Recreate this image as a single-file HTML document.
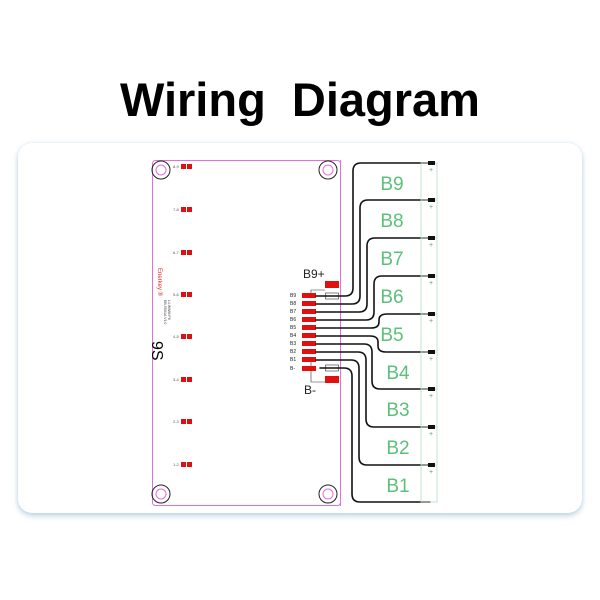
<!DOCTYPE html>
<html><head><meta charset="utf-8"><style>
html,body{margin:0;padding:0;background:#fff;}
body{width:600px;height:600px;position:relative;overflow:hidden;font-family:"Liberation Sans",sans-serif;}
.title{position:absolute;left:0;top:72px;width:600px;text-align:center;font-weight:bold;font-size:47px;color:#000;white-space:pre;line-height:56px;}
.card{position:absolute;left:18px;top:143px;width:564px;height:370px;background:#fff;border-radius:14px;box-shadow:0 3px 6px rgba(120,170,200,0.45),0 0 3px rgba(150,190,210,0.3);}
svg{position:absolute;left:0;top:0;}
</style></head><body>
<div class="title">Wiring  Diagram</div>
<div class="card"></div>
<svg width="600" height="600" viewBox="0 0 600 600" font-family="Liberation Sans, sans-serif">
<rect x="152.5" y="160.5" width="188" height="345" rx="3" fill="#fff" stroke="#e070e0" stroke-width="1"/>
<g fill="none">
<circle cx="161" cy="170" r="9" stroke="#222" stroke-width="1"/><circle cx="161" cy="170" r="5" stroke="#e070e0"/>
<circle cx="328" cy="170" r="9" stroke="#222" stroke-width="1"/><circle cx="328" cy="170" r="5" stroke="#e070e0"/>
<circle cx="161" cy="494" r="9" stroke="#222" stroke-width="1"/><circle cx="161" cy="494" r="5" stroke="#e070e0"/>
<circle cx="328" cy="494" r="9" stroke="#222" stroke-width="1"/><circle cx="328" cy="494" r="5" stroke="#e070e0"/>
</g>
<g font-size="4" fill="#555">
<text x="173" y="168">8-9</text><text x="173" y="211">7-8</text><text x="173" y="254">6-7</text><text x="173" y="296">5-6</text>
<text x="173" y="338">4-5</text><text x="173" y="381">3-4</text><text x="173" y="423">2-3</text><text x="173" y="466">1-2</text>
</g>
<g fill="#e01010">
<rect x="181" y="164" width="5" height="5"/><rect x="187" y="164" width="5" height="5"/>
<rect x="181" y="207" width="5" height="5"/><rect x="187" y="207" width="5" height="5"/>
<rect x="181" y="250" width="5" height="5"/><rect x="187" y="250" width="5" height="5"/>
<rect x="181" y="292" width="5" height="5"/><rect x="187" y="292" width="5" height="5"/>
<rect x="181" y="334" width="5" height="5"/><rect x="187" y="334" width="5" height="5"/>
<rect x="181" y="377" width="5" height="5"/><rect x="187" y="377" width="5" height="5"/>
<rect x="181" y="419" width="5" height="5"/><rect x="187" y="419" width="5" height="5"/>
<rect x="181" y="462" width="5" height="5"/><rect x="187" y="462" width="5" height="5"/>
</g>
<text transform="translate(158,268) rotate(90)" font-size="6" fill="#e03030">Enerkey ®</text>
<text transform="translate(164,300) rotate(90)" font-size="3.5" fill="#444">EB-9S01A V1.0</text>
<text transform="translate(168,300) rotate(90)" font-size="3.5" fill="#444">L1.WWM.P8</text>
<text transform="translate(152,341) rotate(90)" font-size="16" fill="#000">9S</text>
<g font-size="5" fill="#222">
<text x="290" y="297">B9</text><text x="290" y="305">B8</text><text x="290" y="313">B7</text><text x="290" y="321">B6</text>
<text x="290" y="329">B5</text><text x="290" y="337">B4</text><text x="290" y="345">B3</text><text x="290" y="353">B2</text>
<text x="290" y="361">B1</text><text x="290" y="370">B-</text>
</g>
<path d="M311 298 V290 H325 M311 361 V382 H325" stroke="#333" stroke-width="0.6" fill="none"/>
<g fill="#e01010">
<rect x="302" y="293" width="14" height="5"/><rect x="302" y="301" width="14" height="5"/><rect x="302" y="309" width="14" height="5"/>
<rect x="302" y="317" width="14" height="5"/><rect x="302" y="325" width="14" height="5"/><rect x="302" y="333" width="14" height="5"/>
<rect x="302" y="341" width="14" height="5"/><rect x="302" y="349" width="14" height="5"/><rect x="302" y="357" width="14" height="5"/>
<rect x="302" y="366" width="14" height="5"/>
<rect x="325" y="281" width="14" height="7"/><rect x="325" y="376" width="14" height="7"/>
</g>
<rect x="325.5" y="293" width="13" height="6" fill="#fff" stroke="#333" stroke-width="0.6"/>
<rect x="325.5" y="365" width="13" height="6" fill="#fff" stroke="#333" stroke-width="0.6"/>
<text x="303" y="278" font-size="12" fill="#222">B9+</text>
<text x="304" y="394" font-size="12" fill="#222">B-</text>
<line x1="340.5" y1="160" x2="340.5" y2="506" stroke="#e070e0" stroke-width="1"/>
<g fill="none" stroke="#111" stroke-width="1.6" stroke-linecap="round">
<path d="M316 296 H345 Q353 296 353 288 V171 Q353 163 361 163 H432"/>
<path d="M316 304 H352 Q360 304 360 296 V208 Q360 200 368 200 H432"/>
<path d="M316 312 H359 Q367 312 367 304 V246 Q367 238 375 238 H432"/>
<path d="M316 320 H366 Q374 320 374 312 V284 Q374 276 382 276 H432"/>
<path d="M316 328 H371 Q379 328 379 322 V320 Q379 314 387 314 H432"/>
<path d="M316 336 H370 Q378 336 378 342 V346 Q378 352 386 352 H432"/>
<path d="M316 344 H364 Q372 344 372 352 V381 Q372 389 380 389 H432"/>
<path d="M316 352 H358 Q366 352 366 360 V419 Q366 427 374 427 H432"/>
<path d="M316 360 H351 Q359 360 359 368 V457 Q359 465 367 465 H432"/>
<path d="M320 368 H344 Q352 368 352 376 V494 Q352 502 360 502 H430"/>
</g>
<g fill="none" stroke="#b8dcc0" stroke-width="0.8">
<rect x="421" y="163" width="16" height="339"/>
<line x1="421" y1="200" x2="437" y2="200"/><line x1="421" y1="238" x2="437" y2="238"/><line x1="421" y1="276" x2="437" y2="276"/>
<line x1="421" y1="314" x2="437" y2="314"/><line x1="421" y1="352" x2="437" y2="352"/><line x1="421" y1="389" x2="437" y2="389"/>
<line x1="421" y1="427" x2="437" y2="427"/><line x1="421" y1="465" x2="437" y2="465"/>
</g>
<g fill="#111">
<rect x="428" y="161" width="7" height="4"/><rect x="428" y="198" width="7" height="4"/><rect x="428" y="236" width="7" height="4"/>
<rect x="428" y="274" width="7" height="4"/><rect x="428" y="312" width="7" height="4"/><rect x="428" y="350" width="7" height="4"/>
<rect x="428" y="387" width="7" height="4"/><rect x="428" y="425" width="7" height="4"/><rect x="428" y="463" width="7" height="4"/>
</g>
<g font-size="7" fill="#5a9a6a">
<text x="429" y="172">+</text><text x="429" y="209">+</text><text x="429" y="247">+</text><text x="429" y="285">+</text>
<text x="429" y="323">+</text><text x="429" y="361">+</text><text x="429" y="398">+</text><text x="429" y="436">+</text><text x="429" y="474">+</text>
</g>
<g font-size="19" fill="#5cc07a" text-anchor="middle">
<text x="392" y="190">B9</text><text x="392" y="227">B8</text><text x="392" y="265">B7</text><text x="392" y="303">B6</text>
<text x="392" y="341">B5</text><text x="398" y="379">B4</text><text x="398" y="416">B3</text><text x="398" y="454">B2</text><text x="398" y="492">B1</text>
</g>
</svg>
</body></html>
